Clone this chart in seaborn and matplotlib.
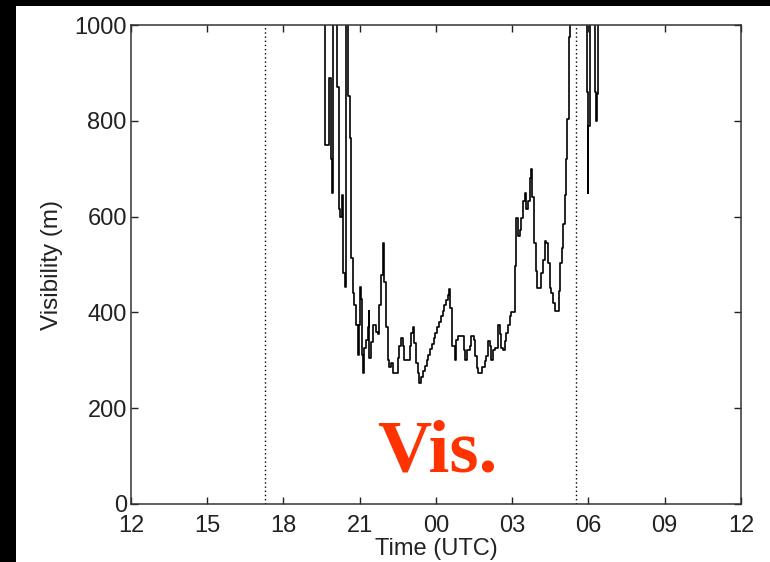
import matplotlib
matplotlib.use("Agg")
import matplotlib.pyplot as plt
import seaborn as sns
import pandas as pd
from matplotlib.patches import Rectangle

# Time in hours since 12 UTC of the first day (24 = 00 UTC, 36 = 12 UTC next day)
hours = [
    19.50, 19.65, 19.79, 19.85, 19.92, 19.96, 20.12, 20.19, 20.24, 20.29,
    20.35, 20.42, 20.47, 20.55, 20.60, 20.66, 20.72, 20.79, 20.85, 20.92,
    20.97, 21.01, 21.05, 21.09, 21.14, 21.18, 21.25, 21.31, 21.35, 21.38,
    21.44, 21.51, 21.64, 21.71, 21.77, 21.84, 21.90, 21.97, 22.04, 22.10,
    22.17, 22.23, 22.30, 22.50, 22.56, 22.63, 22.69, 22.76, 22.96, 23.02,
    23.09, 23.15, 23.22, 23.28, 23.35,
    23.42, 23.49, 23.56, 23.63, 23.70, 23.77, 23.84, 23.91, 23.98, 24.05,
    24.12, 24.19, 24.26, 24.33, 24.40, 24.47,
    24.53, 24.57, 24.64, 24.73, 24.79, 24.86, 25.10, 25.16, 25.21, 25.32,
    25.39, 25.48, 25.54, 25.61, 25.65, 25.82, 25.91, 25.98, 26.04, 26.11,
    26.17, 26.24, 26.31, 26.44, 26.50, 26.57, 26.63, 26.70, 26.77, 26.83,
    26.90, 26.96, 27.09, 27.16, 27.22, 27.29, 27.36, 27.42, 27.49, 27.55,
    27.62, 27.68, 27.75, 27.79, 27.86, 27.92, 27.99, 28.14, 28.21, 28.28,
    28.34, 28.41, 28.47, 28.54, 28.60, 28.67, 28.84, 28.89, 28.95, 29.00,
    29.06, 29.12, 29.16, 29.22, 29.26, 29.94, 29.97, 30.00, 30.04, 30.27,
    30.30, 30.34, 30.38, 36.00,
]

# Visibility in metres (values above 1000 m lie beyond the plotted range)
visibility = [
    1500, 750, 890, 720, 650, 1500, 870, 615, 600, 645,
    483, 452, 1500, 851, 765, 514, 440, 416, 374, 312,
    374, 452, 427, 312, 274, 326, 343, 370, 402, 305,
    339, 374, 360, 354, 416, 479, 545, 464, 370, 301,
    285, 294, 274, 305, 329, 347, 329, 301, 329, 358,
    370, 336, 294, 274, 253,
    265, 277, 288, 300, 311, 323, 334, 346, 357, 369,
    380, 392, 403, 415, 426, 437,
    448, 410, 329, 301, 343, 351, 322, 301, 322, 329,
    351, 343, 308, 284, 274, 287, 298, 308, 340, 329,
    301, 322, 326, 374, 354, 326, 322, 340, 358, 374,
    392, 401, 496, 598, 559, 573, 598, 632, 650, 615,
    632, 681, 699, 640, 545, 486, 451, 483, 510, 549,
    545, 504, 451, 441, 420, 402, 444, 504, 535, 584,
    646, 720, 803, 975, 1500, 860, 650, 790, 1500, 860,
    800, 855, 1500, 1500,
]

# Sunset / sunrise markers
marker_hours = [17.27, 29.49]

tick_hours = [12, 15, 18, 21, 24, 27, 30, 33, 36]
tick_labels = ["12", "15", "18", "21", "00", "03", "06", "09", "12"]
vis_ticks = [0, 200, 400, 600, 800, 1000]

sns.set_theme(style="ticks")
plt.rcParams["font.family"] = ["Liberation Sans", "DejaVu Sans"]

fig = plt.figure(figsize=(7.70, 5.62), dpi=100, facecolor="black")
# white page area, leaving a black margin on the left and top
fig.add_artist(Rectangle((16 / 770, 0), 1 - 16 / 770, 556 / 562,
                         transform=fig.transFigure, facecolor="white",
                         edgecolor="none", zorder=-10))
ax = fig.add_axes([131 / 770, 58 / 562, 610 / 770, 479 / 562])
ax.set_zorder(1)
ax.set_facecolor("white")

df = pd.DataFrame({"hour": hours, "vis": visibility})
sns.lineplot(data=df, x="hour", y="vis", ax=ax, color="black", linewidth=1.2,
             drawstyle="steps-post", estimator=None, sort=False)

for h in marker_hours:
    ax.axvline(h, color="black", linewidth=1.0, linestyle=(0, (1, 2)))

ax.set_xlim(12, 36)
ax.set_ylim(0, 1000)
ax.set_xticks(tick_hours)
ax.set_xticklabels(tick_labels)
ax.set_yticks(vis_ticks)
ax.tick_params(direction="in", length=5, width=1, colors="#222222",
               labelsize=17, top=True, right=True)
ax.tick_params(axis="x", pad=8)
ax.tick_params(axis="y", pad=3)
for s in ax.spines.values():
    s.set_color("#333333")
    s.set_linewidth(1.1)
    s.set_visible(True)

ax.set_xlabel("Time (UTC)", fontsize=17, color="#222222", labelpad=1)
ax.set_ylabel("Visibility (m)", fontsize=17.5, color="#222222", labelpad=8)

ax.text(0.502, 0.067, "Vis.", transform=ax.transAxes, ha="center",
        va="baseline", fontsize=54, fontweight="bold", color="#ff3300",
        family=["Liberation Serif", "DejaVu Serif"])

fig.savefig("out.png", dpi=100, facecolor=fig.get_facecolor())
